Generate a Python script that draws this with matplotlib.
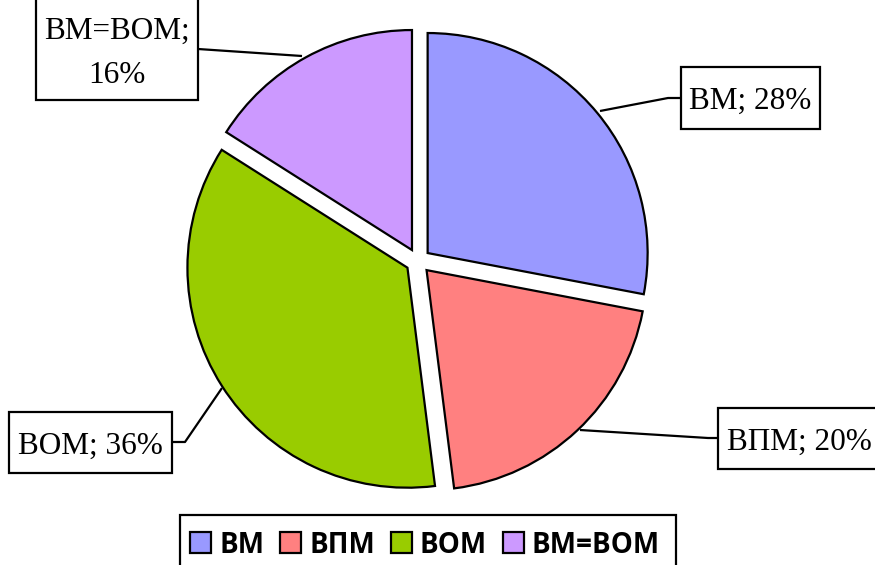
import matplotlib
matplotlib.use("Agg")
import matplotlib.pyplot as plt
from matplotlib.patches import Rectangle

# Share of each category, per cent
categories = ["ВМ", "ВПМ", "ВОМ", "ВМ=ВОМ"]
shares = [28, 20, 36, 16]
colors = ["#9999FF", "#FF8080", "#99CC00", "#CC99FF"]

W, H = 875, 565
fig = plt.figure(figsize=(W / 100, H / 100), dpi=100)
ax = fig.add_axes([0, 0, 1, 1])

def py(y):
    # canvas y measured from the top edge
    return H - y

cx, cy, r = 418, py(261), 220
ax.pie(shares, colors=colors, startangle=90, counterclock=False,
       center=(cx, cy), radius=r, explode=[12.5] * len(shares),
       wedgeprops=dict(edgecolor="black", linewidth=1.6))
ax.set_xlim(0, W)
ax.set_ylim(0, H)
ax.set_aspect("equal")
ax.axis("off")

label_font = dict(family="Liberation Serif", size=22.5, color="black")

# callout boxes: (x0, y0, x1, y1) in canvas pixels, leader polyline, text lines
callouts = [
    ((681, 67, 820, 129), [(600, 111), (668, 98), (681, 98)], [f"{categories[0]}; {shares[0]}%"]),
    ((718, 408, 890, 469), [(580, 430), (708, 438), (718, 438)], [f"{categories[1]}; {shares[1]}%"]),
    ((9, 412, 172, 473), [(222, 388), (185, 442), (172, 442)], [f"{categories[2]}; {shares[2]}%"]),
    ((36, -6, 198, 100), [(302, 56), (198, 49)], [f"{categories[3]};", f"{shares[3]}%"]),
]
for (x0, y0, x1, y1), leader, lines in callouts:
    xs = [p[0] for p in leader]
    ys = [py(p[1]) for p in leader]
    ax.plot(xs, ys, color="black", lw=1.6, solid_capstyle="butt", zorder=3)
    ax.add_patch(Rectangle((x0, py(y1)), x1 - x0, y1 - y0, facecolor="white",
                           edgecolor="black", lw=1.6, zorder=4, clip_on=False))
    if len(lines) == 1:
        if x1 > W:
            ax.text(727, py((y0 + y1) / 2), lines[0], ha="left", va="center_baseline",
                    zorder=5, **label_font)
        else:
            ax.text((x0 + x1) / 2, py((y0 + y1) / 2), lines[0], ha="center",
                    va="center_baseline", zorder=5, **label_font)
    else:
        ax.text((x0 + x1) / 2, py(28), lines[0], ha="center", va="center_baseline",
                zorder=5, **label_font)
        ax.text((x0 + x1) / 2, py(72), lines[1], ha="center", va="center_baseline",
                zorder=5, **label_font)

# legend along the bottom
ax.add_patch(Rectangle((180, py(580)), 676 - 180, 580 - 515, facecolor="white",
                       edgecolor="black", lw=1.6, zorder=4, clip_on=False))
fig.canvas.draw()
renderer = fig.canvas.get_renderer()
x = 190
ymid = py(542)
for name, col in zip(categories, colors):
    ax.add_patch(Rectangle((x, ymid - 10.5), 21, 21, facecolor=col, edgecolor="black",
                           lw=1.6, zorder=5))
    t = ax.text(x + 29, ymid, name, ha="left", va="center_baseline", zorder=5,
                family="Open Sans", weight="bold", size=20, color="black")
    bb = t.get_window_extent(renderer)
    x = bb.x1 + 16

fig.savefig("out.png", dpi=100)
